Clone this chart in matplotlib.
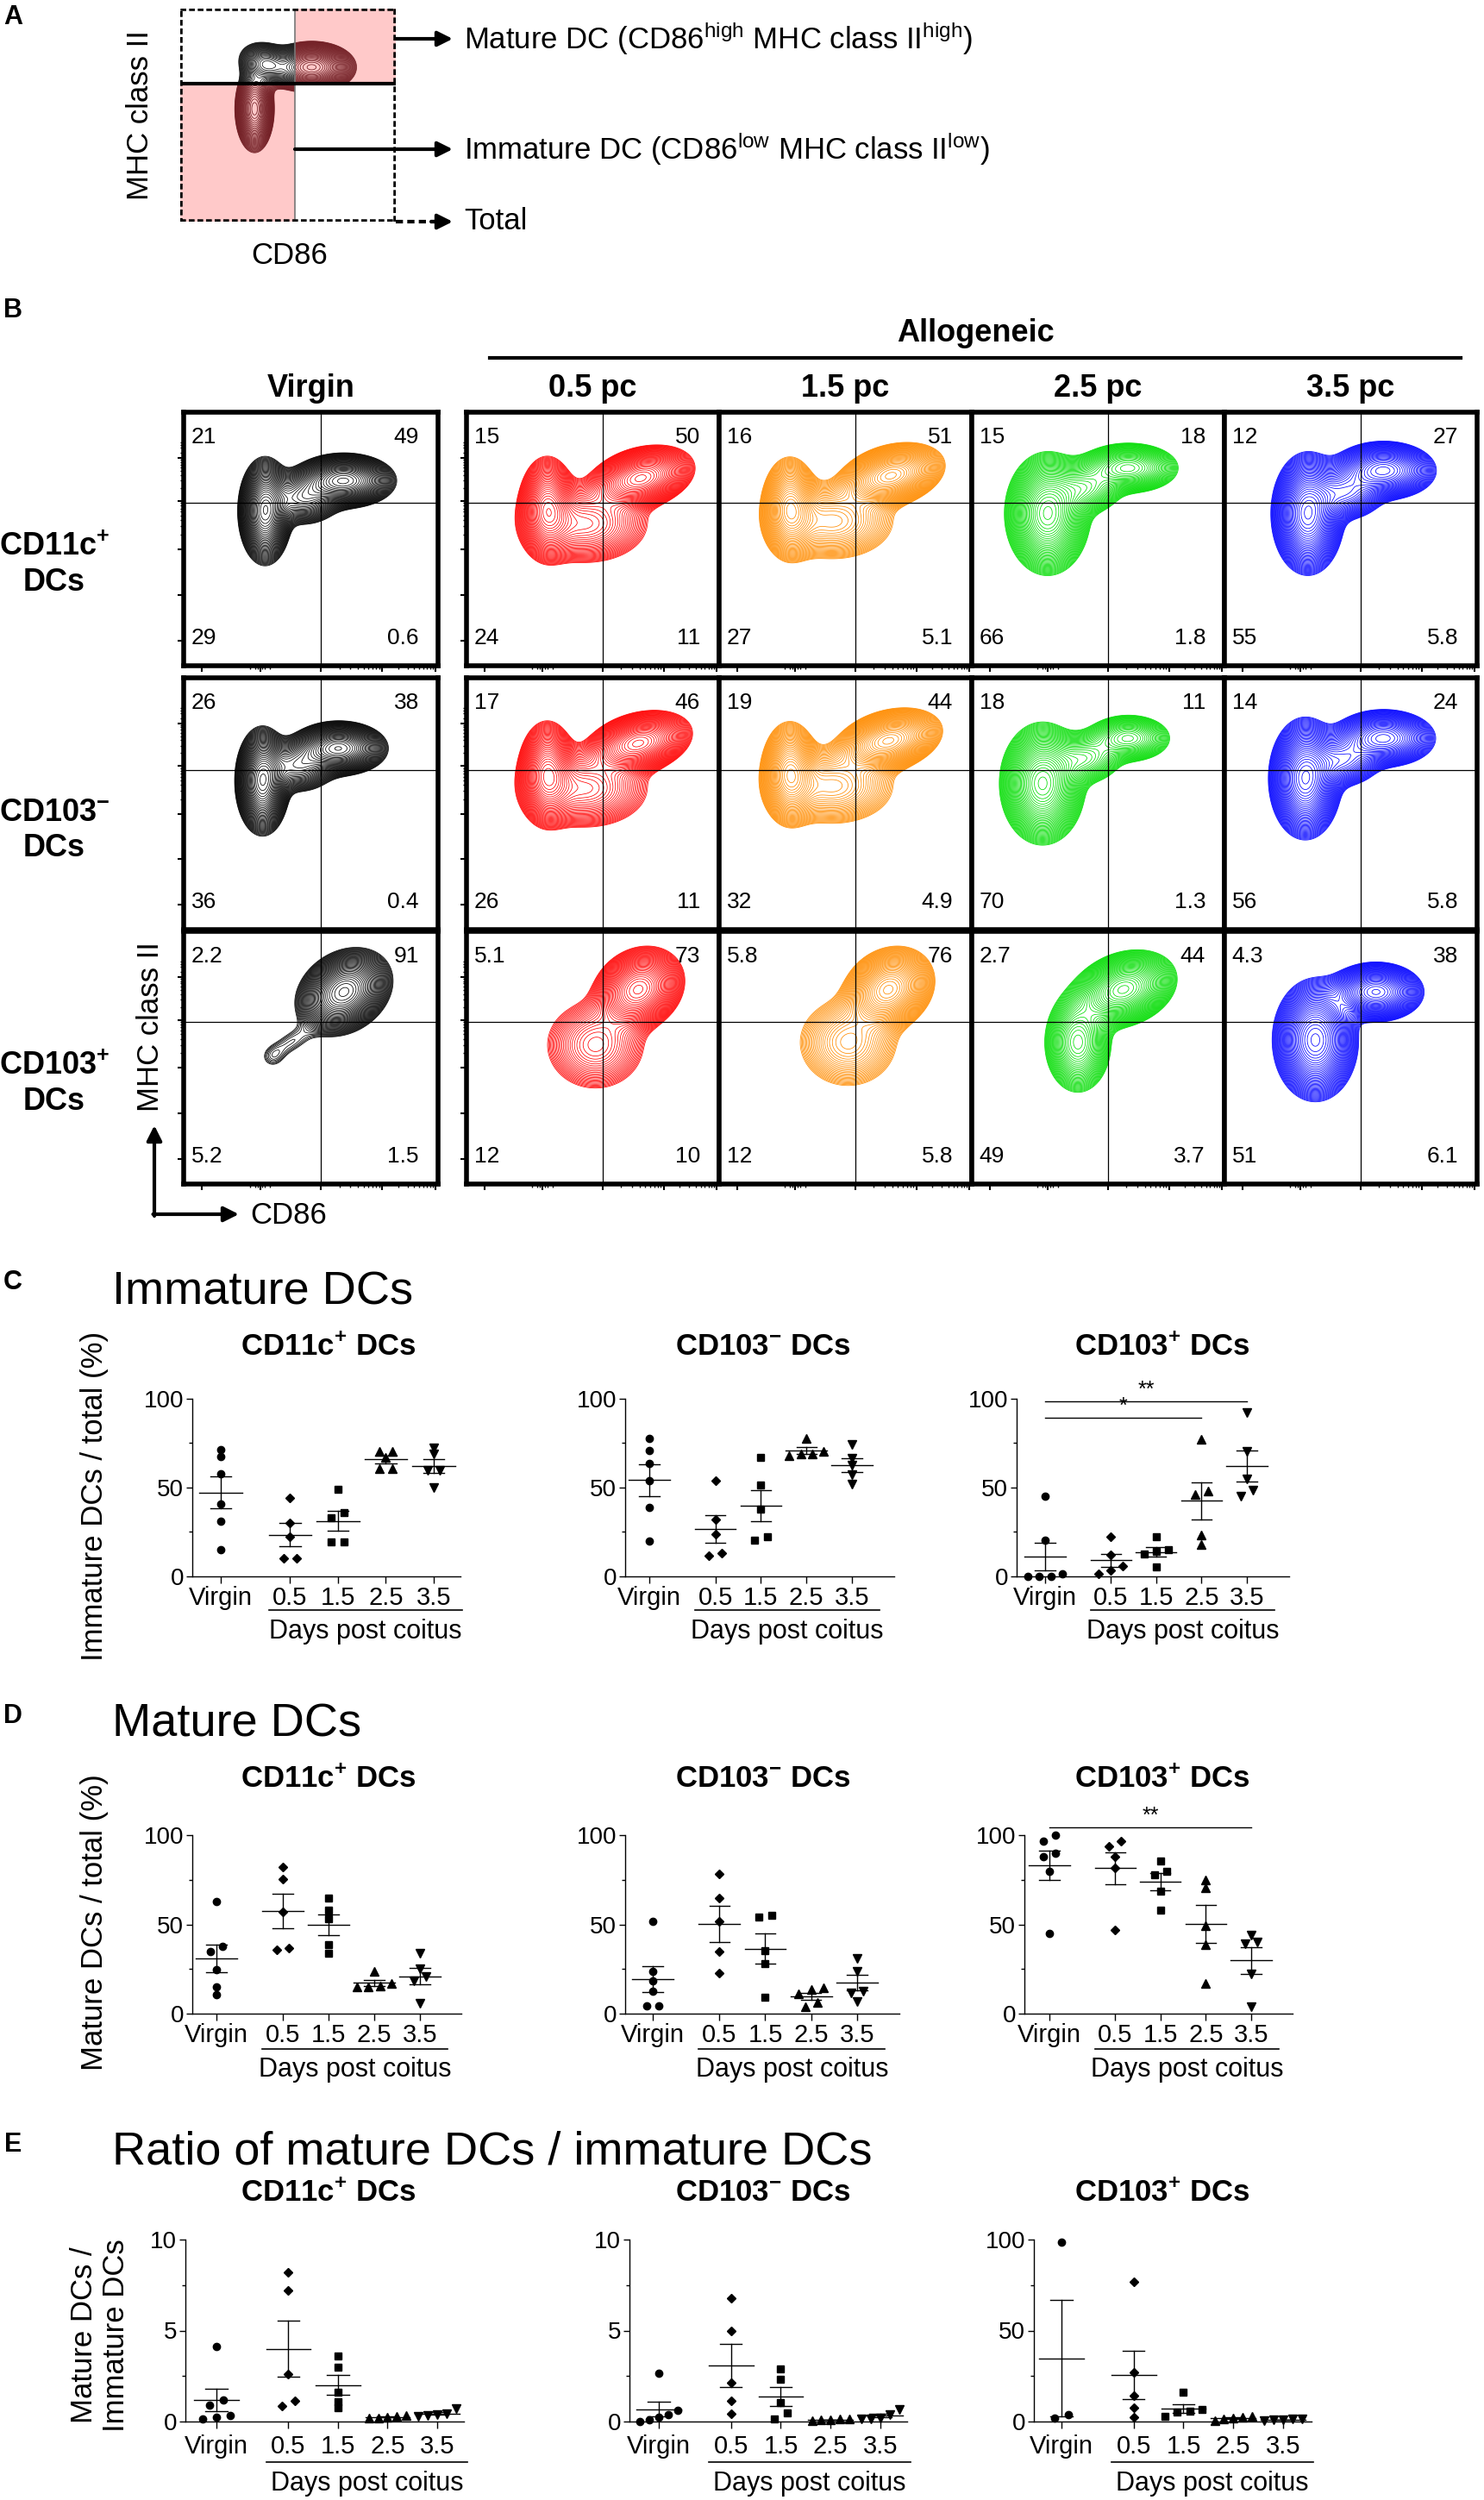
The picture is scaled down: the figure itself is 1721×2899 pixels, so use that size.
import numpy as np
import matplotlib
matplotlib.use("Agg")
import matplotlib.pyplot as plt
import matplotlib.transforms as mtransforms
from matplotlib.lines import Line2D
from matplotlib.patches import Rectangle, FancyArrowPatch

plt.rcParams["font.family"] = ["Liberation Sans", "DejaVu Sans"]
plt.rcParams["mathtext.fontset"] = "custom"
plt.rcParams["mathtext.rm"] = "Liberation Sans"
plt.rcParams["mathtext.it"] = "Liberation Sans:italic"
plt.rcParams["mathtext.bf"] = "Liberation Sans:bold"
plt.rcParams["axes.linewidth"] = 1.0

W, H = 1721, 2899

# ---------------- data ----------------
# panel B: quadrant percentages (top-left, top-right, bottom-left, bottom-right)
B_STAGES = ["Virgin", "0.5 pc", "1.5 pc", "2.5 pc", "3.5 pc"]
B_ROWS = [r"CD11c$^{\mathbf{+}}$" + "\nDCs", r"CD103$^{\mathbf{-}}$" + "\nDCs",
          r"CD103$^{\mathbf{+}}$" + "\nDCs"]
QUAD_CD11C = [["21", "49", "29", "0.6"], ["15", "50", "24", "11"], ["16", "51", "27", "5.1"],
              ["15", "18", "66", "1.8"], ["12", "27", "55", "5.8"]]
QUAD_CD103N = [["26", "38", "36", "0.4"], ["17", "46", "26", "11"], ["19", "44", "32", "4.9"],
               ["18", "11", "70", "1.3"], ["14", "24", "56", "5.8"]]
QUAD_CD103P = [["2.2", "91", "5.2", "1.5"], ["5.1", "73", "12", "10"], ["5.8", "76", "12", "5.8"],
               ["2.7", "44", "49", "3.7"], ["4.3", "38", "51", "6.1"]]
FLOW_COLORS = ["#000000", "#ff0000", "#ff8c00", "#00dd00", "#0000ff"]

# population shapes: (cx, cy, sx, sy, angle, weight)
BLOB_A = [(0.61, 0.725, 0.085, 0.05, 0, 1.0), (0.40, 0.74, 0.06, 0.045, -20, 0.5),
          (0.345, 0.53, 0.04, 0.09, 0, 0.7)]
BLOB_CD11C = [
    [(0.63, 0.73, 0.085, 0.045, 0, 1.0), (0.32, 0.61, 0.045, 0.09, 0, 0.9), (0.47, 0.66, 0.07, 0.05, 0, 0.4)],
    [(0.69, 0.74, 0.09, 0.05, 15, 1.0), (0.32, 0.62, 0.05, 0.09, 0, 0.7), (0.47, 0.56, 0.12, 0.075, 0, 0.4)],
    [(0.68, 0.75, 0.09, 0.05, 15, 1.0), (0.28, 0.62, 0.05, 0.09, 0, 0.65), (0.45, 0.57, 0.12, 0.075, 0, 0.35)],
    [(0.30, 0.60, 0.07, 0.10, 0, 1.0), (0.62, 0.78, 0.09, 0.045, 0, 0.55), (0.45, 0.70, 0.07, 0.05, 0, 0.35)],
    [(0.33, 0.60, 0.06, 0.10, 0, 1.0), (0.63, 0.77, 0.09, 0.05, 0, 0.75), (0.48, 0.68, 0.07, 0.05, 0, 0.4)],
]
BLOB_CD103N = [
    [(0.61, 0.72, 0.08, 0.045, 0, 1.0), (0.31, 0.59, 0.045, 0.09, 0, 1.0), (0.45, 0.65, 0.07, 0.05, 0, 0.4)],
    [(0.68, 0.74, 0.09, 0.05, 15, 1.0), (0.32, 0.62, 0.05, 0.09, 0, 0.75), (0.47, 0.56, 0.12, 0.075, 0, 0.4)],
    [(0.67, 0.75, 0.09, 0.05, 15, 1.0), (0.28, 0.62, 0.05, 0.09, 0, 0.7), (0.45, 0.57, 0.12, 0.075, 0, 0.35)],
    [(0.28, 0.58, 0.07, 0.10, 0, 1.0), (0.62, 0.76, 0.08, 0.045, 0, 0.4), (0.45, 0.68, 0.07, 0.05, 0, 0.3)],
    [(0.32, 0.60, 0.06, 0.10, 0, 1.0), (0.63, 0.76, 0.09, 0.05, 0, 0.7), (0.47, 0.67, 0.07, 0.05, 0, 0.35)],
]
BLOB_CD103P = [
    [(0.63, 0.76, 0.085, 0.065, 35, 1.0), (0.42, 0.56, 0.07, 0.035, 30, 0.07), (0.35, 0.50, 0.035, 0.035, 0, 0.05)],
    [(0.68, 0.77, 0.08, 0.065, 35, 1.0), (0.51, 0.55, 0.10, 0.09, 0, 0.3)],
    [(0.67, 0.77, 0.08, 0.065, 35, 1.0), (0.51, 0.56, 0.10, 0.09, 0, 0.3)],
    [(0.60, 0.77, 0.09, 0.06, 20, 1.0), (0.42, 0.56, 0.06, 0.09, 0, 0.55)],
    [(0.36, 0.57, 0.07, 0.10, 0, 1.0), (0.60, 0.76, 0.08, 0.05, 0, 0.85)],
]

# panels C-E: individual mice per group
GROUPS = ["Virgin", "0.5", "1.5", "2.5", "3.5"]
MARKERS = ["o", "D", "s", "^", "v"]
MSIZES = [6, 5.2, 5.6, 6.5, 6.5]

IMM_CD11C = [[71.3, 67.3, 58, 41, 31, 15], [44.4, 30.2, 22.1, 10.2, 10.2],
             [48.9, 36, 32.9, 19.2, 19.2], [70.6, 70.6, 66.8, 60.6, 60.6],
             [72.4, 68.9, 59.5, 59.5, 49.8]]
IMM_CD103N = [[77.9, 71, 63.7, 54, 38.7, 19.8], [53.7, 31.9, 23.9, 12.9, 11.8],
              [66.9, 51.6, 37.9, 22.1, 20.2], [77.9, 70.2, 68.9, 68.2, 68.9],
              [74.2, 66.6, 62.4, 57.3, 52.1]]
IMM_CD103P = [[45.2, 20.6, 1.3, 0, 0, 0], [22.3, 12.1, 6, 3.5, 1.3],
              [22.3, 15, 14, 12.4, 5.3], [77.1, 47.9, 46.3, 23.4, 18],
              [92.4, 70.2, 54.8, 48.4, 45.2]]

MAT_CD11C = [[62.7, 37.9, 34.8, 24.4, 14.8, 10.8], [82.1, 75.3, 57.1, 36.9, 35.8],
             [64.8, 57.9, 53.2, 38.5, 34], [23.7, 16.9, 15.5, 15.2, 15.2],
             [34, 25, 21, 18.5, 6]]
MAT_CD103N = [[51.5, 23.8, 18.5, 12.8, 4.5, 4.5], [78.3, 64.5, 51.5, 34.7, 22.6],
              [55, 54.3, 35.5, 27.8, 9.3], [14.4, 13.3, 11.2, 6.1, 3.7],
              [30.7, 23.8, 12.8, 11.7, 6.9]]
MAT_CD103P = [[100, 96.8, 90, 88, 79.9, 45], [96.8, 93.7, 88.1, 81.7, 46.9],
              [85.7, 79.9, 78, 68.6, 57.9], [74.8, 70.4, 49.5, 38.6, 16.9],
              [44.2, 40.2, 39.1, 22.2, 3.7]]

RATIO_CD11C = [[4.13, 1.2, 0.9, 0.35, 0.25, 0.15], [8.2, 7.2, 2.6, 1.15, 0.85],
               [3.6, 3.0, 1.6, 1.1, 0.75], [0.35, 0.3, 0.25, 0.2, 0.2],
               [0.7, 0.45, 0.4, 0.35, 0.3]]
RATIO_CD103N = [[2.65, 0.63, 0.36, 0.25, 0.1, 0.02], [6.77, 4.96, 2.14, 1.12, 0.44],
                [2.88, 2.33, 1.04, 0.47, 0.13], [0.15, 0.12, 0.1, 0.08, 0.03],
                [0.65, 0.4, 0.2, 0.15, 0.15]]
RATIO_CD103P = [[98.7, 3.6, 2.0], [76.8, 27, 14.2, 7.6, 2.5],
                [16, 6.5, 5.5, 5, 3], [3, 2.5, 2, 1.5, 0.5],
                [1.5, 1.2, 1, 0.8, 0.5]]

# significance: (group a, group b, height, label)
SIG_IMM_CD103P = [(0, 3, 89.2, "*"), (0, 4, 98.7, "**")]
SIG_MAT_CD103P = [(0, 4, 104.5, "**")]

SUBTITLES = [r"CD11c$^{\mathbf{+}}$ DCs", r"CD103$^{\mathbf{-}}$ DCs", r"CD103$^{\mathbf{+}}$ DCs"]

# ---------------- helpers ----------------
XPOS = np.array([0, 1.45, 2.45, 3.45, 4.45])
gx = np.linspace(0, 1, 260)
GX, GY = np.meshgrid(gx, gx)
LEVELS = np.geomspace(0.05, 0.97, 40)

fig = plt.figure(figsize=(W / 100, H / 100), dpi=100)


def fy(y):
    return 1 - y / H


def ftext(x, y, s, **kw):
    kw.setdefault("ha", "center")
    kw.setdefault("va", "center")
    return fig.text(x / W, fy(y), s, **kw)


def fline(x1, y1, x2, y2, **kw):
    fig.add_artist(Line2D([x1 / W, x2 / W], [fy(y1), fy(y2)], transform=fig.transFigure, **kw))


def farrow(x1, y1, x2, y2, lw=3):
    fig.add_artist(FancyArrowPatch(
        (x1 / W, fy(y1)), (x2 / W, fy(y2)), transform=fig.transFigure,
        arrowstyle="-|>", mutation_scale=26, lw=lw, color="k", shrinkA=0, shrinkB=0))


def density(blobs):
    Z = np.zeros_like(GX)
    for cx, cy, sx, sy, ang, w in blobs:
        t = np.deg2rad(ang)
        dx, dy = GX - cx, GY - cy
        u = dx * np.cos(t) + dy * np.sin(t)
        v = -dx * np.sin(t) + dy * np.cos(t)
        Z += w * np.exp(-0.5 * ((u / sx) ** 2 + (v / sy) ** 2))
    return Z


def log_minors(a, b):
    return [a + (b - a) * np.log10(k) for k in range(2, 10)]


FX_MAJ = [0.07, 0.30, 0.54, 0.78, 0.99]
FX_MIN = [0.26, 0.28, 0.29, 0.31, 0.32, 0.34] + log_minors(0.54, 0.78) + log_minors(0.78, 0.99)
FY_MAJ = [0.10, 0.28, 0.46, 0.65, 0.82]
FY_MIN = log_minors(0.46, 0.65) + log_minors(0.65, 0.82) + [0.84, 0.86, 0.87, 0.88]


def flow_box(left, top, w, h, blobs, color, quad, hline, lticks, bticks):
    ax = fig.add_axes([left / W, fy(top + h), w / W, h / H])
    ax.set_xlim(0, 1)
    ax.set_ylim(0, 1)
    Z = density(blobs)
    ax.contour(GX, GY, Z, levels=Z.max() * LEVELS, colors=color, linewidths=0.55)
    ax.axvline(0.54, color="k", lw=0.9)
    ax.axhline(hline, color="k", lw=0.9)
    for sp in ax.spines.values():
        sp.set_linewidth(4)
    tl, tr, bl, br = quad
    ax.text(0.03, 0.90, tl, ha="left", va="center", fontsize=19, transform=ax.transAxes)
    ax.text(0.925, 0.90, tr, ha="right", va="center", fontsize=19, transform=ax.transAxes)
    ax.text(0.03, 0.11, bl, ha="left", va="center", fontsize=19, transform=ax.transAxes)
    ax.text(0.925, 0.11, br, ha="right", va="center", fontsize=19, transform=ax.transAxes)
    if bticks:
        ax.set_xticks(FX_MAJ)
        ax.set_xticks(FX_MIN, minor=True)
    else:
        ax.set_xticks([])
    if lticks:
        ax.set_yticks(FY_MAJ)
        ax.set_yticks(FY_MIN, minor=True)
    else:
        ax.set_yticks([])
    ax.tick_params(which="major", direction="out", length=5, width=1.5, labelbottom=False, labelleft=False)
    ax.tick_params(which="minor", direction="out", length=3, width=1)
    return ax


def swarm_offsets(vals, thresh, dmax=0.27, span=0.75):
    vals = np.asarray(vals, float)
    order = np.argsort(vals, kind="stable")
    offs = np.zeros(len(vals))
    clusters = [[order[0]]]
    for i in order[1:]:
        if vals[i] - vals[clusters[-1][-1]] < thresh:
            clusters[-1].append(i)
        else:
            clusters.append([i])
    for c in clusters:
        n = len(c)
        if n > 1:
            d = min(dmax, span / (n - 1))
            for k, idx in enumerate(c):
                offs[idx] = (k - (n - 1) / 2) * d
    return offs


def scatter_panel(cols, y0, ytop, data, ymax, yticks, ylabels, tick_y, line_y, dpc_y, sig=None):
    L, pv, p35, R = cols
    s = (p35 - pv) / XPOS[-1]
    ax = fig.add_axes([L / W, fy(y0), (R - L) / W, (y0 - ytop) / H])
    ax.set_xlim((L - pv) / s, (R - pv) / s)
    ax.set_ylim(0, ymax)
    for side in ("top", "right"):
        ax.spines[side].set_visible(False)
    for g, vals in enumerate(data):
        vals = np.asarray(vals, float)
        x0 = XPOS[g]
        offs = swarm_offsets(vals, 0.034 * ymax)
        ax.plot(x0 + offs, vals, ls="none", marker=MARKERS[g], ms=MSIZES[g], color="k",
                mec="k", clip_on=False, zorder=3)
        m = vals.mean()
        se = vals.std(ddof=1) / np.sqrt(len(vals))
        ax.plot([x0 - 0.45, x0 + 0.45], [m, m], color="k", lw=1.0, clip_on=False)
        ax.plot([x0, x0], [m - se, m + se], color="k", lw=1.0, clip_on=False)
        for yy in (m - se, m + se):
            ax.plot([x0 - 0.22, x0 + 0.22], [yy, yy], color="k", lw=1.0, clip_on=False)
    ax.set_yticks(yticks)
    ax.set_yticklabels(ylabels, fontsize=20)
    ax.set_yticks([yticks[0] + (yticks[1] - yticks[0]) / 2, yticks[1] + (yticks[2] - yticks[1]) / 2], minor=True)
    ax.tick_params(axis="y", which="major", length=5, width=1, pad=2)
    ax.tick_params(axis="y", which="minor", length=3, width=1)
    ax.set_xticks(XPOS)
    ax.set_xticklabels([])
    ax.tick_params(axis="x", length=6, width=1)
    blend = mtransforms.blended_transform_factory(ax.transData, fig.transFigure)
    for g, lab in enumerate(GROUPS):
        ax.text(XPOS[g], fy(tick_y), lab, transform=blend, ha="center", va="center", fontsize=21)
    ax.add_line(Line2D([1.0, 5.05], [fy(line_y)] * 2, transform=blend, color="k", lw=1.2, clip_on=False))
    ax.text(3.03, fy(dpc_y), "Days post coitus", transform=blend, ha="center", va="center", fontsize=22)
    if sig:
        for a, b, yy, lab in sig:
            ax.plot([XPOS[a], XPOS[b]], [yy, yy], color="k", lw=1.0, clip_on=False)
            ax.text((XPOS[a] + XPOS[b]) / 2, yy + 0.005 * ymax, lab, ha="center", va="bottom",
                    fontsize=18, clip_on=False)
    return ax


# ---------------- panel A ----------------
ftext(15, 20, "A", fontsize=22, fontweight="bold")
axA = fig.add_axes([209 / W, fy(257), 250 / W, 247 / H])
axA.set_xlim(0, 1)
axA.set_ylim(0, 1)
axA.set_xticks([])
axA.set_yticks([])
for sp in axA.spines.values():
    sp.set_visible(False)
VX, HY = 0.53, 0.648
axA.add_patch(Rectangle((VX, HY), 1 - VX, 1 - HY, facecolor="#ffc9c9", edgecolor="none", zorder=0))
axA.add_patch(Rectangle((0, 0), VX, HY, facecolor="#ffc9c9", edgecolor="none", zorder=0))
ZA = density(BLOB_A)
csk = axA.contour(GX, GY, ZA, levels=ZA.max() * LEVELS, colors="#111111", linewidths=0.55, zorder=1)
csk.set_clip_path(Rectangle((0, HY), VX, 1 - HY, transform=axA.transData, facecolor="none"))
csr = axA.contour(GX, GY, ZA, levels=ZA.max() * LEVELS, colors="#6e1a20", linewidths=0.55, zorder=1)
csr.set_clip_path(Rectangle((0, 0), VX, HY, transform=axA.transData, facecolor="none"))
csr2 = axA.contour(GX, GY, ZA, levels=ZA.max() * LEVELS, colors="#6e1a20", linewidths=0.55, zorder=1)
csr2.set_clip_path(Rectangle((VX, HY), 1 - VX, 1 - HY, transform=axA.transData, facecolor="none"))
axA.plot([VX, VX], [0, 1], color="#777777", lw=1.2, zorder=2)
axA.plot([0, 1], [HY, HY], color="k", lw=3, zorder=2)
axA.add_patch(Rectangle((0, 0), 1, 1, facecolor="none", edgecolor="k", lw=4, ls=(0, (1.2, 0.6)), zorder=3))
farrow(459, 45, 525, 45)
farrow(342, 173, 525, 173)
fline(459, 257, 508, 257, color="k", lw=3, ls=(0, (2, 1.2)))
farrow(500, 257, 525, 257)
ftext(538, 45, r"Mature DC (CD86$^{\mathrm{high}}$ MHC class II$^{\mathrm{high}}$)", fontsize=25, ha="left")
ftext(538, 173, r"Immature DC (CD86$^{\mathrm{low}}$ MHC class II$^{\mathrm{low}}$)", fontsize=25, ha="left")
ftext(538, 257, "Total", fontsize=25, ha="left")
ftext(163, 134, "MHC class II", fontsize=25, rotation=90)
ftext(336, 297, "CD86", fontsize=25)

# ---------------- panel B ----------------
ftext(15, 360, "B", fontsize=22, fontweight="bold")
ftext(1131, 386, "Allogeneic", fontsize=26, fontweight="bold")
fline(568, 415, 1694, 415, color="k", lw=3)
BOX_LEFTS = [213, 541, 834, 1127, 1420]
BOX_W = [295, 293, 293, 293, 293]
ROW_TOPS = [478, 786, 1080]
ROW_H = [294, 292, 293]
ROW_HLINE = [0.643, 0.635, 0.64]
for c, lab in enumerate(B_STAGES):
    ftext(BOX_LEFTS[c] + BOX_W[c] / 2, 451, lab, fontsize=26, fontweight="bold")
for r, (blobs, quads) in enumerate(zip([BLOB_CD11C, BLOB_CD103N, BLOB_CD103P],
                                       [QUAD_CD11C, QUAD_CD103N, QUAD_CD103P])):
    for c in range(5):
        flow_box(BOX_LEFTS[c], ROW_TOPS[r], BOX_W[c], ROW_H[r], blobs[c], FLOW_COLORS[c],
                 quads[c], ROW_HLINE[r], lticks=(c <= 1), bticks=(r != 1))
    ftext(63, ROW_TOPS[r] + 177, B_ROWS[r], fontsize=26, fontweight="bold", linespacing=1.25)
ftext(175, 1191, "MHC class II", fontsize=25, rotation=90)
farrow(179, 1410, 179, 1305)
farrow(177.5, 1408, 277, 1408)
ftext(290, 1410, "CD86", fontsize=25, ha="left")

# ---------------- panels C-E ----------------
ROW_INFO = [
    ("C", 1487, "Immature DCs", 1499, 1562, 1828, 1622, 1853, 1867, 1892,
     [(223, 256, 503, 534), (725, 753, 988, 1037), (1179, 1212, 1446, 1495)]),
    ("D", 1990, "Mature DCs", 1999, 2063, 2335, 2128, 2360, 2376, 2400,
     [(223, 251, 487, 535), (725, 757, 994, 1043), (1188, 1217, 1451, 1499)]),
    ("E", 2487, "Ratio of mature DCs / immature DCs", 2496, 2543, 2808, 2597, 2837, 2855, 2880,
     [(215, 251, 507, 538), (730, 764, 1021, 1052), (1199, 1231, 1488, 1521)]),
]
ROW_DATA = [
    [(IMM_CD11C, None), (IMM_CD103N, None), (IMM_CD103P, SIG_IMM_CD103P)],
    [(MAT_CD11C, None), (MAT_CD103N, None), (MAT_CD103P, SIG_MAT_CD103P)],
    [(RATIO_CD11C, None), (RATIO_CD103N, None), (RATIO_CD103P, None)],
]
SUB_X = [381, 885, 1348]
for ri, (letter, ly, title, ty, sy, y0, ytop, tky, lny, dpy, cols) in enumerate(ROW_INFO):
    ftext(15, ly, letter, fontsize=22, fontweight="bold")
    ftext(130, ty, title, fontsize=39, ha="left")
    for ci in range(3):
        ftext(SUB_X[ci], sy, SUBTITLES[ci], fontsize=25, fontweight="bold")
        data, sig = ROW_DATA[ri][ci]
        if ri == 2 and ci < 2:
            ymax, yt, yl = 10, [0, 5, 10], ["0", "5", "10"]
        else:
            ymax, yt, yl = 100, [0, 50, 100], ["0", "50", "100"]
        scatter_panel(cols[ci], y0, ytop, data, ymax, yt, yl, tky, lny, dpy, sig)

ftext(110, 1735, "Immature DCs / total (%)", fontsize=25, rotation=90)
ftext(110, 2229, "Mature DCs / total (%)", fontsize=25, rotation=90)
ftext(116, 2708, "Mature DCs /\nImmature DCs", fontsize=25, rotation=90, linespacing=1.15)

fig.savefig("out.png", dpi=100)
